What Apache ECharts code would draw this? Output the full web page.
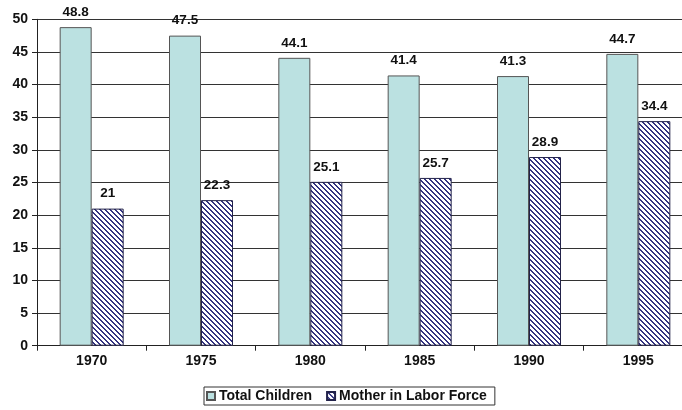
<!DOCTYPE html>
<html>
<head>
<meta charset="utf-8">
<script src="https://cdn.jsdelivr.net/npm/echarts@6/dist/echarts.min.js"></script>
<style>
html,body{margin:0;padding:0;background:#fff;overflow:hidden;}
#c{width:682px;height:410px;}
</style>
</head>
<body>
<div id="c"></div>
<script>
const categories = ['1970', '1975', '1980', '1985', '1990', '1995'];
const totalChildren = [48.8, 47.5, 44.1, 41.4, 41.3, 44.7];
const motherInLaborForce = [21, 22.3, 25.1, 25.7, 28.9, 34.4];
const yTicks = { min: 0, max: 50, interval: 5 };

function makeHatch() {
  const n = 5;
  const cv = document.createElement('canvas');
  cv.width = n; cv.height = n;
  const ctx = cv.getContext('2d');
  const img = ctx.createImageData(n, n);
  for (let y = 0; y < n; y++) {
    for (let x = 0; x < n; x++) {
      const k = ((x - y) % n + n) % n;
      const i = (y * n + x) * 4;
      const navy = (k === 0 || k === 1);
      img.data[i] = navy ? 52 : 255;
      img.data[i + 1] = navy ? 52 : 255;
      img.data[i + 2] = navy ? 130 : 255;
      img.data[i + 3] = 255;
    }
  }
  ctx.putImageData(img, 0, 0);
  return cv;
}

const font = 'Liberation Sans, Arial, sans-serif';
const chart = echarts.init(document.getElementById('c'), null, { renderer: 'canvas' });
const labelStyle = {
  show: true, position: 'top', distance: 8,
  fontFamily: font, fontWeight: 'bold', fontSize: 13.5, color: '#111'
};
chart.setOption({
  animation: false,
  textStyle: { fontFamily: font },
  grid: { left: 37, width: 656, top: 19.3, height: 326.4, containLabel: false, outerBoundsMode: 'none' },
  legend: {
    left: 204, top: 387,
    icon: 'rect',
    itemWidth: 8, itemHeight: 8, itemGap: 14,
    padding: [2, 8, 2, 2],
    borderColor: '#333', borderWidth: 1,
    textStyle: { fontFamily: font, fontWeight: 'bold', fontSize: 14, color: '#111', padding: [0, 0, 0, -1] },
    data: ['Total Children', 'Mother in Labor Force']
  },
  xAxis: {
    type: 'category', data: categories,
    axisLine: { lineStyle: { color: '#222', width: 1 } },
    axisTick: { show: true, length: 5, lineStyle: { color: '#222' } },
    axisLabel: { margin: 8, fontFamily: font, fontWeight: 'bold', fontSize: 14, color: '#111' }
  },
  yAxis: {
    type: 'value', min: yTicks.min, max: yTicks.max, interval: yTicks.interval,
    axisLine: { show: true, lineStyle: { color: '#222', width: 1 } },
    axisTick: { show: true, length: 5, lineStyle: { color: '#222' } },
    axisLabel: { margin: 9, fontFamily: font, fontWeight: 'bold', fontSize: 14, color: '#111' },
    splitLine: { show: true, lineStyle: { color: '#333', width: 1 } }
  },
  series: [
    {
      name: 'Total Children', type: 'bar', data: totalChildren,
      barWidth: 32, barGap: '0%',
      itemStyle: { color: '#bbe1e1', borderColor: '#555', borderWidth: 1 },
      label: labelStyle
    },
    {
      name: 'Mother in Labor Force', type: 'bar', data: motherInLaborForce,
      barWidth: 32,
      itemStyle: { color: { image: makeHatch(), repeat: 'repeat' }, borderColor: '#22224a', borderWidth: 1 },
      label: labelStyle
    }
  ]
});
</script>
</body>
</html>
